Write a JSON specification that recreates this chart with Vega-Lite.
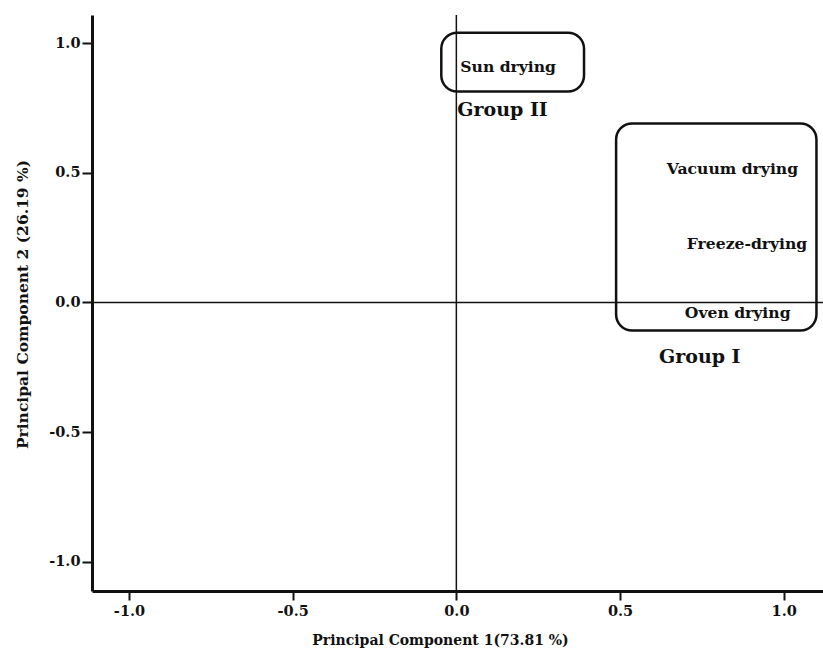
{
  "$schema": "https://vega.github.io/schema/vega-lite/v6.json",
  "width": 731,
  "height": 576,
  "autosize": {"type": "none"},
  "padding": {"left": 92, "top": 15, "right": 0, "bottom": 65},
  "background": "white",
  "config": {"view": {"stroke": null}},
  "datasets": {
    "boxes": [
      {"group": "Group II", "x1": -0.046, "x2": 0.39, "y1": 1.04, "y2": 0.813},
      {"group": "Group I", "x1": 0.488, "x2": 1.10, "y1": 0.69, "y2": -0.108}
    ],
    "labels": [
      {"label": "Sun drying", "pc1": 0.012, "pc2": 0.906},
      {"label": "Vacuum drying", "pc1": 0.643, "pc2": 0.516},
      {"label": "Freeze-drying", "pc1": 0.704, "pc2": 0.224},
      {"label": "Oven drying", "pc1": 0.698, "pc2": -0.042}
    ],
    "groups": [
      {"label": "Group II", "pc1": 0.003, "pc2": 0.74},
      {"label": "Group I", "pc1": 0.619, "pc2": -0.212}
    ]
  },
  "layer": [
    {
      "data": {"name": "labels"},
      "mark": {"type": "text", "align": "left", "baseline": "middle", "font": "DejaVu Serif", "fontWeight": "bold", "fontSize": 15.6, "color": "#111"},
      "encoding": {
        "x": {
          "field": "pc1", "type": "quantitative",
          "scale": {"domain": [-1.113, 1.12], "nice": false, "zero": false},
          "axis": {
            "values": [-1, -0.5, 0, 0.5, 1], "grid": false,
            "labelExpr": "datum.value < 0 ? '-' + format(-datum.value, '.1f') : format(datum.value, '.1f')",
            "domainColor": "#111", "domainWidth": 3, "tickColor": "#111", "tickWidth": 2, "tickSize": 9,
            "labelFont": "DejaVu Serif", "labelFontWeight": "bold", "labelFontSize": 14.5, "labelColor": "#111", "labelPadding": 4,
            "title": "Principal Component 1(73.81 %)", "titleFont": "DejaVu Serif", "titleFontWeight": "bold", "titleFontSize": 14, "titleColor": "#111",
            "titleX": 348, "titleY": 49, "titleBaseline": "middle"
          }
        },
        "y": {
          "field": "pc2", "type": "quantitative",
          "scale": {"domain": [-1.112, 1.108], "nice": false, "zero": false},
          "axis": {
            "values": [-1, -0.5, 0, 0.5, 1], "grid": false,
            "labelExpr": "datum.value < 0 ? '-' + format(-datum.value, '.1f') : format(datum.value, '.1f')",
            "domainColor": "#111", "domainWidth": 3, "tickColor": "#111", "tickWidth": 2, "tickSize": 10,
            "labelFont": "DejaVu Serif", "labelFontWeight": "bold", "labelFontSize": 14.5, "labelColor": "#111", "labelPadding": 2,
            "title": "Principal Component 2 (26.19 %)", "titleFont": "DejaVu Serif", "titleFontWeight": "bold", "titleFontSize": 15.5, "titleColor": "#111",
            "titleX": -70, "titleY": 289, "titleBaseline": "middle"
          }
        },
        "text": {"field": "label"}
      }
    },
    {
      "data": {"name": "groups"},
      "mark": {"type": "text", "align": "left", "baseline": "middle", "font": "DejaVu Serif", "fontWeight": "bold", "fontSize": 19, "color": "#111"},
      "encoding": {
        "x": {"field": "pc1", "type": "quantitative"},
        "y": {"field": "pc2", "type": "quantitative"},
        "text": {"field": "label"}
      }
    },
    {
      "data": {"name": "boxes"},
      "mark": {"type": "rect", "fill": null, "fillOpacity": 0, "stroke": "#111", "strokeWidth": 2.5, "cornerRadius": 16},
      "encoding": {
        "x": {"field": "x1", "type": "quantitative"},
        "x2": {"field": "x2"},
        "y": {"field": "y1", "type": "quantitative"},
        "y2": {"field": "y2"}
      }
    },
    {
      "data": {"values": [{"v": 0}]},
      "mark": {"type": "rule", "color": "#111", "strokeWidth": 1.5},
      "encoding": {"x": {"field": "v", "type": "quantitative"}}
    },
    {
      "data": {"values": [{"v": 0}]},
      "mark": {"type": "rule", "color": "#111", "strokeWidth": 1.5},
      "encoding": {"y": {"field": "v", "type": "quantitative"}}
    }
  ]
}
